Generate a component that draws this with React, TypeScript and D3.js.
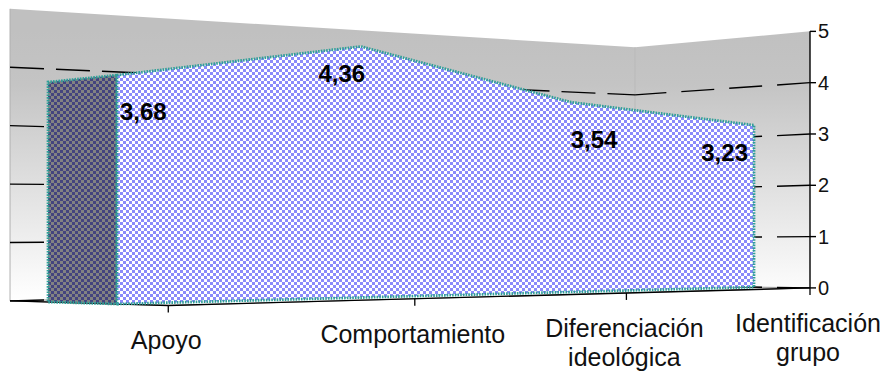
import React from 'react';
import * as d3 from 'd3';

// ---------- data ----------
const categories = ['Apoyo', 'Comportamiento', 'Diferenciación ideológica', 'Identificación grupo'];
const categoryLines = [['Apoyo'], ['Comportamiento'], ['Diferenciación', 'ideológica'], ['Identificación', 'grupo']];
const values = [3.68, 4.36, 3.54, 3.23];
const valueLabels = ['3,68', '4,36', '3,54', '3,23'];
const yTicks = [0, 1, 2, 3, 4, 5];
const gridValues = [0, 1, 2, 3, 4];

// ---------- layout / projection ----------
const W = 888;
const H = 376;
const cam = { b: 117, a: 272.8, g: 0.0802, f: 304, d: 17.4, p: -67, q: 10.35, h: 0.0409 };
const depth = { front: -0.694, areaFront: 0, areaBack: 1, back: 1.587 };
const labelOffsets = [
  { dx: 3, dy: 45, anchor: 'start' },
  { dx: -19, dy: 35.5, anchor: 'middle' },
  { dx: 23, dy: 46, anchor: 'middle' },
  { dx: -6, dy: 35.5, anchor: 'end' },
];

const cScale = d3.scalePoint<string>().domain(categories).range([0, 3]);
const vScale = d3.scaleLinear().domain([0, 5]).range([0, -311]);
const cMin = cScale(categories[0]) as number;
const cMax = cScale(categories[categories.length - 1]) as number;
const vMax = yTicks[yTicks.length - 1];

function proj(c: number, v: number, z: number): [number, number] {
  const w = 1 + cam.g * c + cam.h * z;
  return [(cam.b + cam.a * c + cam.p * z) / w, (cam.f + cam.d * c + cam.q * z + vScale(v)) / w];
}

const line = d3.line<[number, number]>();
const poly = (pts: [number, number][]) => (line(pts) as string) + 'Z';

export default function App() {
  const zB = depth.back;
  const zF = depth.front;

  const backWall = poly([proj(cMin, 0, zB), proj(cMax, 0, zB), proj(cMax, vMax, zB), proj(cMin, vMax, zB)]);
  const sideWall = poly([proj(cMax, 0, zB), proj(cMax, 0, zF), proj(cMax, vMax, zF), proj(cMax, vMax, zB)]);
  const floor = poly([proj(cMin, 0, zB), proj(cMax, 0, zB), proj(cMax, 0, zF), proj(cMin, 0, zF)]);

  const cap = poly([
    proj(cMin, 0, depth.areaFront),
    proj(cMin, values[0], depth.areaFront),
    proj(cMin, values[0], depth.areaBack),
    proj(cMin, 0, depth.areaBack),
  ]);
  const frontPts: [number, number][] = categories.map((c, i) => proj(cScale(c) as number, values[i], depth.areaFront));
  frontPts.push(proj(cMax, 0, depth.areaFront));
  frontPts.push(proj(cMin, 0, depth.areaFront));
  const front = poly(frontPts);

  const axisTop = proj(cMax, vMax, zF);
  const axisBot = proj(cMax, 0, zF);

  return (
    <svg width={W} height={H} style={{ position: 'absolute', left: 0, top: 0, background: '#fff' }}
      fontFamily="'Liberation Sans', Arial, sans-serif">
      <defs>
        <linearGradient id="wallGrad" gradientUnits="userSpaceOnUse" x1="0" y1="30" x2="0" y2="300">
          <stop offset="0" stopColor="#c0c0c0" />
          <stop offset="0.2" stopColor="#c4c4c4" />
          <stop offset="1" stopColor="#ffffff" />
        </linearGradient>
        <pattern id="frontPat" patternUnits="userSpaceOnUse" width="6" height="6">
          <rect width="6" height="6" fill="#ffffff" />
          <rect width="3" height="3" fill="#8a8afa" />
          <rect x="3" y="3" width="3" height="3" fill="#8a8afa" />
        </pattern>
        <pattern id="capPat" patternUnits="userSpaceOnUse" width="6" height="6">
          <rect width="6" height="6" fill="#828282" />
          <rect width="3" height="3" fill="#44447e" />
          <rect x="3" y="3" width="3" height="3" fill="#44447e" />
        </pattern>
      </defs>

      {/* walls */}
      <path d={backWall} fill="url(#wallGrad)" stroke="none" />
      <path d={sideWall} fill="url(#wallGrad)" stroke="none" />
      <path d={line([proj(cMin, 0, zB), proj(cMin, vMax, zB)]) as string} stroke="#b0b0b0" strokeWidth={1} />
      <path d={line([proj(cMax, 0, zB), proj(cMax, vMax, zB)]) as string} stroke="#b8b8b8" strokeWidth={1} />
      <path d={floor} fill="#ffffff" stroke="#909090" strokeWidth={1} />

      {/* gridlines */}
      {gridValues.map((v) => {
        const a = proj(cMin, v, zB);
        const b = proj(cMax, v, zB);
        const s = proj(cMax, v, zF);
        return (
          <g key={v} stroke="#000" strokeWidth={1.4} fill="none">
            <path d={line([a, b]) as string} strokeDasharray="34 12" />
            <path d={line([s, b]) as string} strokeDasharray="33 15" />
          </g>
        );
      })}

      {/* floor edges */}
      <path d={line([proj(cMin, 0, zB), proj(cMin, 0, zF)]) as string} stroke="#000" strokeWidth={1.4} fill="none" />
      <path d={line([proj(cMin, 0, zF), proj(cMax, 0, zF)]) as string} stroke="#000" strokeWidth={1.4} fill="none" />

      {/* area */}
      <path d={cap} fill="url(#capPat)" stroke="#2f9f98" strokeWidth={2.8} strokeDasharray="1.6 1.1" />
      <path d={front} fill="url(#frontPat)" stroke="#2f9f98" strokeWidth={2.8} strokeDasharray="1.6 1.1" strokeLinejoin="round" />

      {/* category ticks & labels */}
      {categories.map((c, i) => {
        const [x, y] = proj(cScale(c) as number, 0, zF);
        return (
          <g key={c}>
            <line x1={x} x2={x} y1={y} y2={y + 7} stroke="#000" strokeWidth={1.3} />
            {categoryLines[i].map((t, j) => (
              <text key={j} x={x - 2} y={y + 44 + j * 29} textAnchor="middle" fontSize={25} fill="#111">
                {t}
              </text>
            ))}
          </g>
        );
      })}

      {/* value axis */}
      <line x1={axisBot[0]} x2={axisTop[0]} y1={axisBot[1]} y2={axisTop[1]} stroke="#000" strokeWidth={1.4} />
      {yTicks.map((t) => {
        const [x, y] = proj(cMax, t, zF);
        return (
          <g key={t}>
            <line x1={x} x2={x + 6} y1={y} y2={y} stroke="#000" strokeWidth={1.4} />
            <text x={x + 8} y={y} dominantBaseline="central" fontSize={20} fill="#111">
              {t}
            </text>
          </g>
        );
      })}

      {/* data labels */}
      {categories.map((c, i) => {
        const [x, y] = proj(cScale(c) as number, values[i], depth.areaFront);
        const o = labelOffsets[i];
        return (
          <text key={c} x={x + o.dx} y={y + o.dy} textAnchor={o.anchor as any} fontSize={24} fontWeight="bold" fill="#000">
            {valueLabels[i]}
          </text>
        );
      })}
    </svg>
  );
}
